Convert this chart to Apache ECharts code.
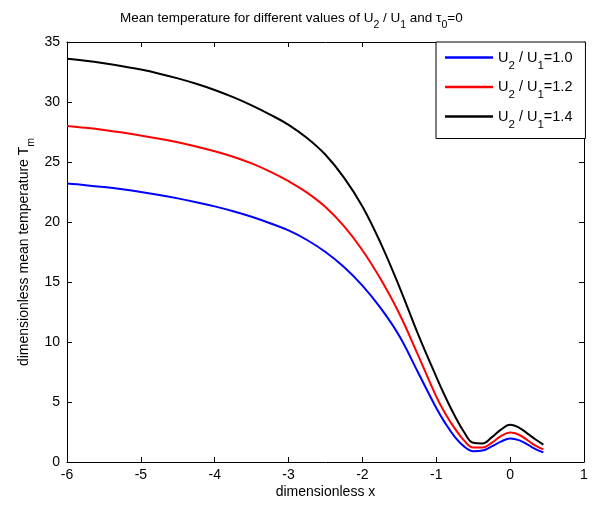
<!DOCTYPE html>
<html><head><meta charset="utf-8">
<script src="https://cdn.jsdelivr.net/npm/echarts@6/dist/echarts.min.js"></script>
<style>html,body{margin:0;padding:0;background:#fff}#c{width:592px;height:506px}</style>
</head><body><div id="c"></div>
<script>
// x positions (dimensionless x)
const xValues = [-6, -5.75, -5.5, -5.25, -5, -4.75, -4.5, -4.25, -4, -3.75, -3.5, -3.25, -3, -2.75, -2.5, -2.25, -2, -1.75, -1.5, -1.25, -1, -0.875, -0.75, -0.625, -0.5, -0.375, -0.25, -0.125, 0, 0.125, 0.25, 0.35, 0.45];
// U2/U1 = 1.0
const tmRatio10 = [23.2, 23.07, 22.91, 22.72, 22.5, 22.25, 21.97, 21.65, 21.3, 20.9, 20.44, 19.9, 19.3, 18.5, 17.5, 16.25, 14.7, 12.8, 10.5, 7.5, 4.5, 3.2, 2.1, 1.3, 0.9, 0.95, 1.3, 1.7, 1.95, 1.8, 1.4, 1.05, 0.8];
// U2/U1 = 1.2
const tmRatio12 = [28.0, 27.85, 27.67, 27.45, 27.2, 26.94, 26.64, 26.29, 25.9, 25.44, 24.88, 24.2, 23.4, 22.45, 21.25, 19.65, 17.65, 15.2, 12.35, 8.95, 5.45, 4.0, 2.8, 1.8, 1.2, 1.2, 1.6, 2.15, 2.45, 2.25, 1.75, 1.35, 1.05];
// U2/U1 = 1.4
const tmRatio14 = [33.6, 33.43, 33.22, 32.98, 32.7, 32.36, 31.97, 31.52, 31.0, 30.4, 29.72, 28.95, 28.1, 27.0, 25.6, 23.7, 21.3, 18.2, 14.6, 10.7, 7.1, 5.4, 3.85, 2.5, 1.6, 1.55, 2.05, 2.7, 3.1, 2.85, 2.3, 1.85, 1.45];
const seriesNames = ['1.0', '1.2', '1.4'];
const xTickRange = [-6, 1, 1];
const yTickRange = [0, 35, 5];

const FONT = "'Liberation Sans', Arial, Helvetica, sans-serif";
const pairs = ys => xValues.map((x, i) => [x, ys[i]]);
const subRich = (size, sub, lh, off) => ({
  n: {fontSize: size, fontFamily: FONT, fontWeight: 'normal', color: '#000', lineHeight: lh},
  s: {fontSize: sub, fontFamily: FONT, fontWeight: 'normal', color: '#000', lineHeight: lh + off, verticalAlign: 'bottom'}
});

const chart = echarts.init(document.getElementById('c'), null, {renderer: 'canvas'});
const axisCommon = {
  type: 'value',
  axisLine: {show: true, onZero: false, lineStyle: {color: '#000', width: 1}},
  axisTick: {show: true, inside: true, length: 5, lineStyle: {color: '#000'}},
  splitLine: {show: false}
};
const colors = ['#0000ff', '#ff0000', '#000000'];
const series = [tmRatio10, tmRatio12, tmRatio14].map((d, i) => ({
  name: seriesNames[i],
  type: 'line',
  data: pairs(d),
  smooth: 0.4,
  symbol: 'none',
  lineStyle: {width: 2, color: colors[i]},
  itemStyle: {color: colors[i]},
  xAxisIndex: 0, yAxisIndex: 0,
  animation: false
}));

chart.setOption({
  animation: false,
  backgroundColor: '#fff',
  title: {
    text: '{n|Mean temperature for different values of U}{s|2}{n| / U}{s|1}{n| and τ}{s|0}{n|=0}',
    left: 115, top: 0,
    textStyle: {fontWeight: 'normal', rich: subRich(13.5, 10.5, 20, 6)}
  },
  grid: {left: 67, top: 42, right: 8, bottom: 44, containLabel: false},
  legend: {
    orient: 'vertical',
    left: 436, top: 42,
    padding: [8, 13, 8, 9],
    itemGap: 8,
    itemWidth: 48, itemHeight: 2.5,
    icon: 'rect',
    borderColor: '#000', borderWidth: 1,
    backgroundColor: '#fff',
    data: seriesNames,
    formatter: n => '{n|U}{s|2}{n| / U}{s|1}{n|=' + n + '}',
    textStyle: {rich: subRich(14.5, 11.5, 22, 6)}
  },
  xAxis: [
    Object.assign({}, axisCommon, {
      position: 'bottom', min: xTickRange[0], max: xTickRange[1], interval: xTickRange[2],
      axisLabel: {color: '#000', fontSize: 14, fontFamily: FONT, margin: 6},
      name: 'dimensionless x', nameLocation: 'middle', nameGap: 23, nameMoveOverlap: false,
      nameTextStyle: {color: '#000', fontSize: 14, fontFamily: FONT}
    }),
    Object.assign({}, axisCommon, {
      position: 'top', min: xTickRange[0], max: xTickRange[1], interval: xTickRange[2],
      axisLabel: {show: false}
    })
  ],
  yAxis: [
    Object.assign({}, axisCommon, {
      position: 'left', min: yTickRange[0], max: yTickRange[1], interval: yTickRange[2],
      axisLabel: {color: '#000', fontSize: 14, fontFamily: FONT, margin: 7},
      name: '{n|dimensionless mean temperature T}{s|m}', nameLocation: 'middle', nameGap: 30, nameRotate: 90,
      nameMoveOverlap: false,
      nameTextStyle: {rich: subRich(14, 10.5, 20, 6)}
    }),
    Object.assign({}, axisCommon, {
      position: 'right', min: yTickRange[0], max: yTickRange[1], interval: yTickRange[2],
      axisLabel: {show: false}
    })
  ],
  series: series
});
</script>
</body></html>
